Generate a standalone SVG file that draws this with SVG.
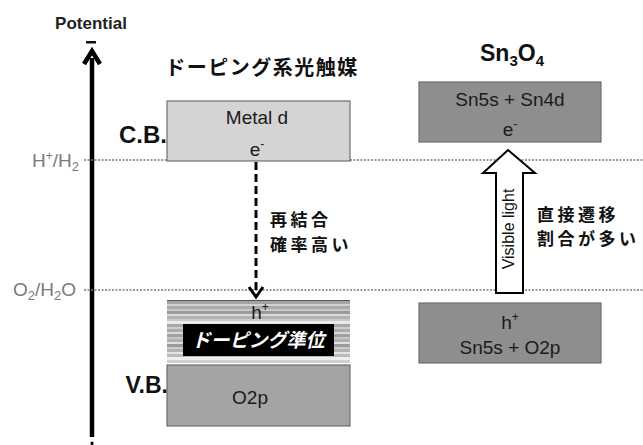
<svg xmlns="http://www.w3.org/2000/svg" width="643" height="445" viewBox="0 0 643 445">
<defs>
<style>
.lat{font-family:"Liberation Sans",Arial,sans-serif}
.jp{font-family:"Noto Sans CJK JP","Noto Sans",sans-serif;font-weight:bold}
.gray{fill:#7a7a7a}
.dot{stroke:#7a7a7a;stroke-width:1.5;stroke-dasharray:2 1.5;fill:none}
.box{stroke:#6e6e6e;stroke-width:1.2}
.bt{font-size:19px;fill:#1a1a1a;text-anchor:middle}
</style>
</defs>
<rect width="643" height="445" fill="#ffffff"/>

<g id="axis">
<text class="lat" x="91" y="29" font-size="17" font-weight="bold" text-anchor="middle" fill="#222">Potential</text>
<rect x="86" y="41" width="10" height="2.5" fill="#111"/>
<line x1="92" y1="58" x2="92" y2="437" stroke="#000" stroke-width="4.5"/>
<polyline points="84,64 92,51 100,64" fill="none" stroke="#000" stroke-width="4.5" stroke-linejoin="miter"/>
<text class="lat" x="92" y="456" font-size="24" font-weight="bold" text-anchor="middle" fill="#000">+</text>
</g>

<g id="connectors">
<line class="dot" x1="84" y1="160" x2="643" y2="160"/>
<line class="dot" x1="84" y1="290" x2="643" y2="290"/>
<line x1="256" y1="162" x2="256" y2="295" stroke="#000" stroke-width="3" stroke-dasharray="8 4"/>
<polyline points="249,287 256,297 263,287" fill="none" stroke="#000" stroke-width="3"/>
</g>

<g id="levels">
<text class="lat gray" x="32" y="167" font-size="19">H<tspan font-size="12" dy="-7">+</tspan><tspan dy="7">/H</tspan><tspan font-size="13" dy="4">2</tspan></text>
<text class="lat gray" x="13" y="296" font-size="19">O<tspan font-size="13" dy="4">2</tspan><tspan dy="-4">/H</tspan><tspan font-size="13" dy="4">2</tspan><tspan dy="-4">O</tspan></text>
</g>

<g id="title-doping">
<text class="jp" x="262" y="75" font-size="20" letter-spacing="1.5" text-anchor="middle" fill="#111">ドーピング系光触媒</text>
</g>

<g id="title-sn3o4">
<text class="lat" x="512" y="61" font-size="23" font-weight="bold" text-anchor="middle" fill="#111">Sn<tspan font-size="15" dy="5">3</tspan><tspan dy="-5">O</tspan><tspan font-size="15" dy="5">4</tspan></text>
</g>

<g id="cb-label"><text class="lat" x="167" y="143" font-size="24" font-weight="bold" text-anchor="end" fill="#111">C.B.</text></g>
<g id="vb-label"><text class="lat" x="168" y="393" font-size="23" font-weight="bold" text-anchor="end" fill="#111">V.B.</text></g>

<g id="metal-d">
<rect class="box" x="167" y="101" width="183" height="60" fill="#d4d4d4"/>
<text class="lat bt" x="257" y="124">Metal d</text>
<text class="lat bt" x="257" y="156">e<tspan font-size="12" dy="-8">-</tspan></text>
</g>

<g id="doping-level">
<rect x="167" y="300" width="183" height="1.2" fill="#555"/>
<rect x="167" y="301" width="183" height="3" fill="#a4a4a4"/>
<rect x="167" y="304" width="183" height="2" fill="#d2d2d2"/>
<rect x="167" y="306" width="183" height="3" fill="#aaaaaa"/>
<rect x="167" y="309" width="183" height="2" fill="#c8c8c8"/>
<rect x="167" y="311" width="183" height="3" fill="#9a9a9a"/>
<rect x="167" y="314" width="183" height="2" fill="#dadada"/>
<rect x="167" y="316" width="183" height="3" fill="#b2b2b2"/>
<rect x="167" y="319" width="183" height="2" fill="#cacaca"/>
<rect x="167" y="321" width="183" height="3" fill="#eaeaea"/>
<rect x="167" y="324" width="183" height="3" fill="#a6a6a6"/>
<rect x="167" y="327" width="183" height="2" fill="#cecece"/>
<rect x="167" y="329" width="183" height="3" fill="#acacac"/>
<rect x="167" y="332" width="183" height="2" fill="#dadada"/>
<rect x="167" y="334" width="183" height="3" fill="#a0a0a0"/>
<rect x="167" y="337" width="183" height="2" fill="#c6c6c6"/>
<rect x="167" y="339" width="183" height="3" fill="#b0b0b0"/>
<rect x="167" y="342" width="183" height="2" fill="#e0e0e0"/>
<rect x="167" y="344" width="183" height="3" fill="#9a9a9a"/>
<rect x="167" y="347" width="183" height="2" fill="#cccccc"/>
<rect x="167" y="349" width="183" height="3" fill="#b2b2b2"/>
<rect x="167" y="352" width="183" height="2" fill="#e4e4e4"/>
<rect x="167" y="354" width="183" height="3" fill="#bababa"/>
<rect x="167" y="357" width="183" height="3" fill="#eeeeee"/>
<rect x="167" y="360" width="183" height="3" fill="#d0d0d0"/>
<text class="lat bt" x="260" y="319">h<tspan font-size="12" dy="-8">+</tspan></text>
<rect x="183" y="324" width="151" height="32" fill="#000"/>
<text class="jp" x="258" y="347" font-size="19" font-style="italic" text-anchor="middle" fill="#fff">ドーピング準位</text>
</g>

<g id="o2p">
<rect class="box" x="167" y="365" width="183" height="61" fill="#a4a4a4"/>
<text class="lat bt" x="250" y="404">O2p</text>
</g>

<g id="recombination-label">
<text class="jp" x="270" y="226" font-size="17" letter-spacing="3.5" fill="#111">再結合</text>
<text class="jp" x="270" y="251" font-size="17" letter-spacing="3.5" fill="#111">確率高い</text>
</g>

<g id="sn-cb">
<rect class="box" x="419" y="82" width="182" height="60" fill="#8e8e8e"/>
<text class="lat bt" x="510" y="106">Sn5s + Sn4d</text>
<text class="lat bt" x="510" y="136">e<tspan font-size="12" dy="-8">-</tspan></text>
</g>

<g id="sn-vb">
<rect class="box" x="419" y="303" width="182" height="60" fill="#8e8e8e"/>
<text class="lat bt" x="510" y="329">h<tspan font-size="12" dy="-8">+</tspan></text>
<text class="lat bt" x="510" y="354">Sn5s + O2p</text>
</g>

<g id="visible-light">
<polygon points="508,150 535,173 523,173 523,293 496,293 496,173 483,173" fill="#fff" stroke="#000" stroke-width="2" stroke-linejoin="miter"/>
<text class="lat" transform="translate(514,229) rotate(-90)" font-size="16" text-anchor="middle" fill="#111">Visible light</text>
</g>

<g id="direct-label">
<text class="jp" x="537" y="221" font-size="17" letter-spacing="3.5" fill="#111">直接遷移</text>
<text class="jp" x="537" y="245" font-size="17" letter-spacing="3.5" fill="#111">割合が多い</text>
</g>
</svg>
